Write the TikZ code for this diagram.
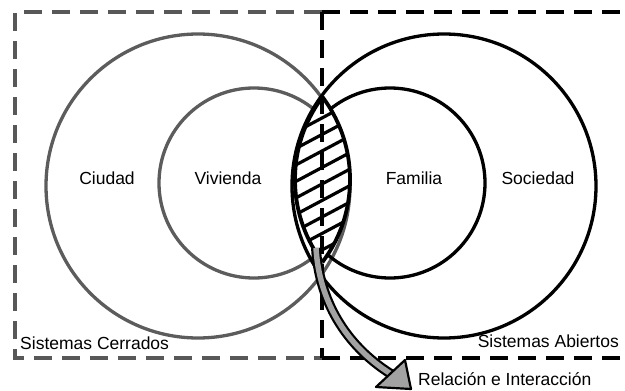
\documentclass[tikz,border=0pt]{standalone}
\usepackage{fontspec}
\setmainfont{Liberation Sans}
\usetikzlibrary{positioning}

\definecolor{closedgray}{HTML}{585858}
\definecolor{ringgray}{HTML}{5C5C5C}
\definecolor{arrowgray}{HTML}{A2A2A2}

\begin{document}
\begin{tikzpicture}[x=1pt,y=-1pt,
    boxline/.style={line width=4.3pt,dash pattern=on 18pt off 10pt},
    ring/.style={line width=3.3pt},
    lbl/.style={font=\fontsize{17.5}{21}\selectfont,inner sep=0pt}]
   \useasboundingbox (0,0) rectangle (625,391);
   % circles
   \draw[ring,ringgray] (198,186) circle(152);
   \draw[ring,ringgray] (254,183) circle(95);
   \draw[ring,black] (444,186) circle(152);
   \draw[ring,black] (390,183) circle(95);
   % boxes
   \draw[boxline,closedgray] (322,12) -- (15,12) -- (15,358) -- (322,358);
   \draw[boxline,black] (322,12) -- (625,12);
   \draw[boxline,black] (322,358) -- (625,358);
   % lens
   \begin{scope}
    \clip (212.5,179.5) circle(137.5);
    \clip (432.5,179.5) circle(137.5);
    \fill[white] (290,90) rectangle (355,270);
    \foreach \c in {0,...,9}
      \draw[line width=3.2pt] (322,118+16.5*\c) ++(-45,24) -- ++(90,-48);
   \end{scope}
   \draw[boxline,black] (322,12) -- (322,358);
   \begin{scope}
    \clip (212.5,179.5) circle(137.5);
    \draw[line width=3.8pt] (432.5,179.5) circle(137.5);
   \end{scope}
   \begin{scope}
    \clip (432.5,179.5) circle(137.5);
    \draw[line width=3.8pt] (212.5,179.5) circle(137.5);
   \end{scope}
   % labels
   \node[lbl] (ciudad) at (107,178) {Ciudad};
   \node[lbl] (vivienda) at (228,178) {Vivienda};
   \node[lbl] (familia) at (414,178) {Familia};
   \node[lbl] (sociedad) at (538,178) {Sociedad};
   \node[lbl,anchor=west] (cerrados) at (20,343) {Sistemas Cerrados};
   \node[lbl,anchor=east] (abiertos) at (619,341) {Sistemas Abiertos};
   \node[lbl,anchor=west] (relacion) at (418,379) {Relación e Interacción};
   % arrow
   \coordinate (arrowstart) at (316,248);
   \coordinate (arrowend) at (391,374);
   \draw[line width=2.2pt,double=arrowgray,double distance=5.5pt]
     (arrowstart) .. controls (319,300) and (345,345) .. (arrowend);
   \filldraw[fill=arrowgray,line width=2.2pt,line join=round]
     (376,387) -- (405,360) -- (411,389) -- cycle;
  \end{tikzpicture}
\end{document}
